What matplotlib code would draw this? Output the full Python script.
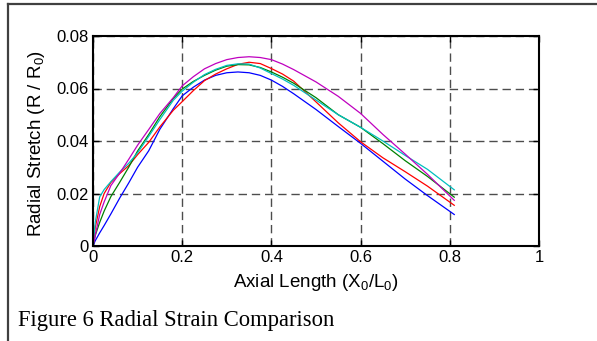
import matplotlib
matplotlib.use("Agg")
import matplotlib.pyplot as plt
from matplotlib.lines import Line2D

plt.rcParams['font.family'] = ['Liberation Sans', 'DejaVu Sans']
plt.rcParams['mathtext.fontset'] = 'custom'
plt.rcParams['mathtext.rm'] = 'Liberation Sans'
plt.rcParams['mathtext.it'] = 'Liberation Sans'

# axial positions (X0/L0) where the curves were read
x = [0, 0.005, 0.015, 0.025, 0.04, 0.06, 0.08, 0.1, 0.125, 0.15, 0.18, 0.2, 0.225,
     0.25, 0.275, 0.3, 0.325, 0.35, 0.375, 0.4, 0.425, 0.45, 0.5, 0.55, 0.6, 0.65, 0.7, 0.75, 0.81]

blue = [0, 0.002, 0.005, 0.0078, 0.0122, 0.0183, 0.0240, 0.0300, 0.0363, 0.0445, 0.0523, 0.0572, 0.0605,
        0.0632, 0.0650, 0.0660, 0.0663, 0.0660, 0.0650, 0.0632, 0.0608, 0.0580, 0.0520, 0.0455, 0.0391,
        0.0323, 0.0255, 0.0192, 0.0120]
red = [0, 0.007, 0.015, 0.0200, 0.0242, 0.0276, 0.0306, 0.0348, 0.0395, 0.0454, 0.0517, 0.0550, 0.0592,
       0.0630, 0.0655, 0.0675, 0.0692, 0.0700, 0.0695, 0.0676, 0.0655, 0.0628, 0.0549, 0.0469, 0.0397,
       0.0336, 0.0283, 0.0228, 0.0155]
green = [0, 0.004, 0.009, 0.0133, 0.0188, 0.0243, 0.0300, 0.0362, 0.0425, 0.0493, 0.0562, 0.0598, 0.0627,
         0.0650, 0.0670, 0.0685, 0.0691, 0.0690, 0.0680, 0.0663, 0.0643, 0.0620, 0.0565, 0.0500, 0.0452,
         0.0390, 0.0325, 0.0265, 0.0186]
cyan = [0, 0.009, 0.0187, 0.0215, 0.0245, 0.0282, 0.0315, 0.0355, 0.0418, 0.0482, 0.0555, 0.0590, 0.0624,
        0.0653, 0.0673, 0.0688, 0.0694, 0.0693, 0.0678, 0.0657, 0.0636, 0.0612, 0.0556, 0.0500, 0.0452,
        0.0400, 0.0345, 0.0292, 0.0214]
magenta = [0, 0.004, 0.012, 0.0168, 0.0230, 0.0278, 0.0330, 0.0384, 0.0444, 0.0505, 0.0565, 0.0610, 0.0645,
           0.0675, 0.0695, 0.0710, 0.0718, 0.0721, 0.0718, 0.0710, 0.0693, 0.0672, 0.0625, 0.0570, 0.0505,
           0.0425, 0.0350, 0.0273, 0.0174]

series = [(blue, (0, 0, 1)), (red, (1, 0, 0)), (green, (0, 0.5, 0)),
          (cyan, (0, 0.75, 0.75)), (magenta, (0.75, 0, 0.75))]

fig = plt.figure(figsize=(5.97, 3.41), dpi=100)
ax = fig.add_axes([93 / 597, 1 - 246 / 341, 446 / 597, 210 / 341])

for y, c in series:
    ax.plot(x, y, color=c, lw=0.9)

ax.set_xlim(0, 1)
ax.set_ylim(0, 0.08)
ax.set_xticks([0, 0.2, 0.4, 0.6, 0.8, 1])
ax.set_xticklabels(['0', '0.2', '0.4', '0.6', '0.8', '1'])
ax.set_yticks([0, 0.02, 0.04, 0.06, 0.08])
ax.set_yticklabels(['0', '0.02', '0.04', '0.06', '0.08'])
ax.tick_params(direction='in', length=4, width=1, labelsize=12, top=True, right=True, pad=3)
ax.grid(True, color='0.3', lw=1, linestyle=(0, (6, 3.5)))
for s in ax.spines.values():
    s.set_linewidth(1.5)

ax.set_xlabel('Axial Length (X$_0$/L$_0$)', fontsize=13.5)
ax.set_ylabel('Radial Stretch (R / R$_0$)', fontsize=13.5)
ax.xaxis.set_label_coords(0.5, -0.125)
ax.yaxis.set_label_coords(-0.103, 0.49)

fig.text(18 / 597, 1 - 326 / 341, 'Figure 6 Radial Strain Comparison',
         family='Liberation Serif', fontsize=16.3, va='baseline', ha='left')

# outer frame, only top and left edges show
fig.add_artist(Line2D([8 / 597, 1], [1 - 3.5 / 341, 1 - 3.5 / 341], color='0.25', lw=1.6,
                      transform=fig.transFigure))
fig.add_artist(Line2D([8 / 597, 8 / 597], [0, 1 - 3.5 / 341], color='0.25', lw=1.6,
                      transform=fig.transFigure))

fig.savefig('out.png', dpi=100)
